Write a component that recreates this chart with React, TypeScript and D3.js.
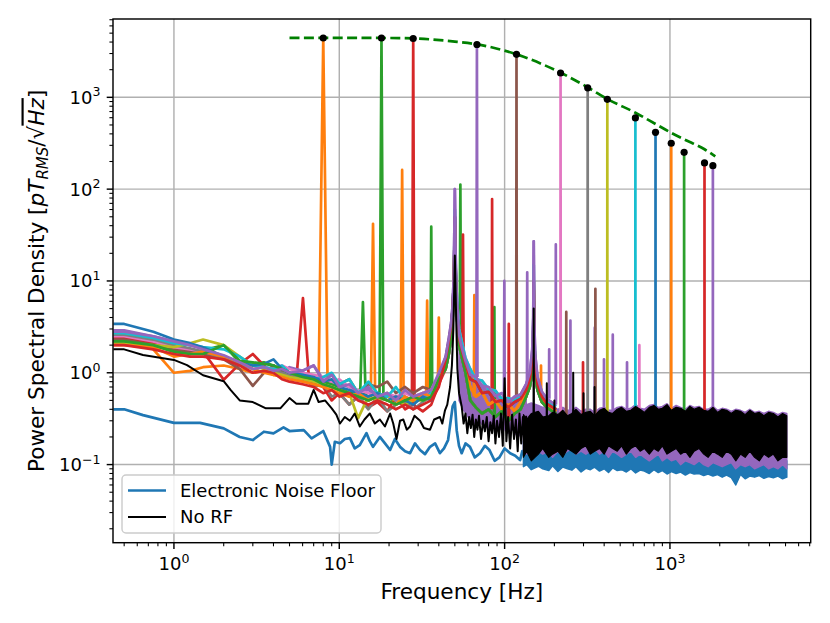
import React from 'react';
import * as d3 from 'd3';

// ---- data ----
const tab10 = ['#1f77b4', '#ff7f0e', '#2ca02c', '#d62728', '#9467bd', '#8c564b', '#e377c2', '#7f7f7f', '#bcbd22', '#17becf'];

// RF drive frequencies (Hz), their peak PSD and line colours (matplotlib cycle after the noise floor)
const rfFreqs = [8, 18, 28, 68, 118, 218, 318, 418, 618, 818, 1018, 1218, 1618, 1818];
const rfPeaks = [4430, 4430, 4370, 3760, 2940, 1840, 1270, 950, 596, 416, 316, 252, 193, 180];
const rfColors = [1, 2, 3, 4, 5, 6, 7, 8, 9, 0, 1, 2, 3, 4].map((c) => tab10[c]);

// low-frequency background of each RF run
const lowFreqs = [0.43, 0.5, 0.75, 1, 1.25, 1.5, 2, 2.5, 3, 3.5, 4, 4.5, 5, 6, 7, 8, 9, 10, 11.5, 13, 15, 17, 19.5, 22, 25, 28, 32, 36, 40];
const rfLow = [
  [2.3, 2.3, 1.8, 1.0, 1.05, 1.15, 1.2, 1.1, 1.0, 1.05, 0.95, 0.9, 1.0, 0.85, 0.8, 0.75, 0.7, 0.65, 0.55, 0.6, 0.5, 0.55, 0.6, 0.5, 0.55, 0.45, 0.6, 0.55, 0.8],
  [2.2, 2.2, 2.0, 1.7, 1.6, 1.75, 2.0, 1.3, 1.25, 1.3, 1.2, 1.05, 0.95, 0.9, 0.85, 0.8, 0.75, 0.7, 0.6, 0.65, 0.55, 0.5, 0.6, 0.45, 0.5, 0.55, 0.5, 0.6, 0.85],
  [2.4, 2.4, 2.1, 1.8, 1.75, 1.7, 0.84, 1.25, 1.6, 1.2, 0.95, 1.0, 0.9, 0.95, 0.8, 0.7, 0.5, 0.6, 0.45, 0.55, 0.42, 0.48, 0.38, 0.55, 0.4, 0.45, 0.38, 0.45, 0.75],
  [2.9, 2.9, 2.5, 2.2, 2.0, 1.85, 1.5, 1.3, 1.2, 1.15, 1.1, 1.0, 1.15, 1.05, 1.2, 0.85, 0.8, 0.75, 0.7, 0.6, 0.65, 0.55, 0.6, 0.5, 0.55, 0.5, 0.55, 0.6, 0.9],
  [2.3, 2.3, 2.0, 1.8, 1.7, 1.6, 1.4, 1.1, 0.72, 1.0, 1.2, 1.05, 0.9, 0.85, 0.75, 0.8, 0.95, 0.75, 0.85, 0.6, 0.75, 0.7, 0.8, 0.6, 0.7, 0.6, 0.7, 0.65, 0.95],
  [2.5, 2.5, 2.2, 1.9, 1.8, 1.7, 1.5, 1.3, 1.2, 1.15, 1.1, 1.2, 1.1, 1.0, 0.95, 0.9, 0.8, 0.85, 0.7, 0.65, 0.6, 0.55, 0.6, 0.55, 0.6, 0.55, 0.6, 0.65, 0.95],
  [2.6, 2.6, 2.3, 2.0, 1.85, 1.7, 1.45, 1.25, 1.1, 1.0, 1.05, 1.0, 0.95, 0.9, 0.7, 0.75, 0.55, 0.6, 0.45, 0.55, 0.4, 0.55, 0.38, 0.45, 0.5, 0.4, 0.48, 0.55, 0.85],
  [2.1, 2.1, 2.0, 1.9, 2.1, 2.3, 2.0, 1.5, 1.2, 1.1, 1.0, 0.95, 0.9, 0.85, 0.8, 0.75, 0.7, 0.65, 0.6, 0.32, 0.55, 0.5, 0.55, 0.5, 0.45, 0.5, 0.5, 0.55, 0.85],
  [2.7, 2.7, 2.4, 2.1, 2.0, 1.9, 1.8, 1.5, 1.2, 1.15, 1.1, 1.2, 1.0, 0.95, 0.85, 0.9, 1.0, 0.75, 0.85, 0.6, 0.8, 0.6, 0.55, 0.7, 0.5, 0.55, 0.5, 0.6, 0.9],
  [3.4, 3.4, 2.8, 2.3, 2.1, 1.9, 1.5, 1.3, 1.2, 1.25, 1.4, 1.1, 1.0, 0.95, 0.9, 0.8, 0.85, 0.7, 0.65, 0.6, 0.55, 0.6, 0.5, 0.55, 0.5, 0.45, 0.55, 0.5, 0.85],
  [2.0, 2.0, 1.9, 1.5, 1.6, 1.7, 1.5, 1.3, 1.1, 1.0, 0.95, 0.9, 0.85, 0.8, 0.75, 0.7, 0.65, 0.6, 0.55, 0.6, 0.5, 0.55, 0.5, 0.45, 0.55, 0.5, 0.6, 0.55, 0.85],
  [2.2, 2.2, 2.0, 1.7, 1.6, 1.6, 2.0, 1.35, 1.3, 1.25, 1.2, 1.1, 1.0, 0.9, 0.85, 0.75, 0.7, 0.65, 0.6, 0.55, 0.5, 0.55, 0.5, 0.45, 0.5, 0.55, 0.5, 0.55, 0.85],
  [2.0, 2.0, 1.8, 1.6, 1.5, 1.5, 1.4, 1.2, 1.0, 1.05, 1.0, 0.85, 0.8, 0.75, 0.7, 0.6, 0.65, 0.55, 0.6, 0.5, 0.45, 0.5, 0.45, 0.4, 0.45, 0.4, 0.45, 0.5, 0.7],
  [2.8, 2.8, 2.5, 2.2, 2.0, 1.8, 1.55, 1.3, 1.1, 1.15, 1.05, 1.1, 1.0, 1.05, 1.2, 0.8, 0.95, 0.7, 0.75, 0.6, 0.7, 0.55, 0.6, 0.5, 0.65, 0.55, 0.6, 0.65, 1.0],
];

// mains hump (50 Hz and 150 Hz) seen by the RF runs
const humpFreqs = [44, 46, 47.5, 48.5, 49.3, 50, 50.7, 51.5, 53, 55, 58, 62, 67, 73, 80, 88, 96, 105, 115, 125, 135, 142, 147, 149, 150, 151, 153, 158, 168, 180, 195, 205];
const humpPurple = [1.5, 2.4, 3.5, 5.5, 12, 100, 14, 6, 2.6, 1.9, 1.35, 0.95, 0.9, 0.72, 0.7, 0.56, 0.6, 0.48, 0.55, 0.58, 0.75, 1.0, 1.8, 4, 27, 4, 1.6, 0.9, 0.62, 0.52, 0.47, 0.45];
const humpPink = [1.3, 2.0, 3.0, 5, 10, 60, 12, 6.5, 3.0, 2.2, 1.45, 1.1, 0.85, 0.82, 0.66, 0.64, 0.52, 0.53, 0.5, 0.55, 0.7, 0.9, 1.5, 3, 15, 3, 1.4, 0.85, 0.6, 0.5, 0.45, 0.43];
const humpBrown = [1.4, 2.2, 3.2, 5, 10, 50, 10, 5, 2.4, 1.8, 1.25, 0.85, 0.8, 0.6, 0.62, 0.48, 0.5, 0.42, 0.48, 0.52, 0.65, 0.85, 1.3, 2.5, 10, 2.5, 1.2, 0.75, 0.55, 0.46, 0.42, 0.4];
const humpOrange = [1.2, 1.8, 2.8, 4.5, 9, 40, 9, 4.5, 2.2, 1.6, 1.1, 0.7, 0.55, 0.62, 0.45, 0.5, 0.4, 0.46, 0.38, 0.48, 0.6, 0.8, 1.2, 2.2, 8, 2.2, 1.1, 0.7, 0.5, 0.44, 0.4, 0.38];
const humpGreen = [1.1, 1.6, 2.4, 4, 8, 30, 8, 4, 2.0, 1.5, 1.0, 0.5, 0.42, 0.36, 0.4, 0.33, 0.38, 0.3, 0.36, 0.4, 0.55, 0.7, 1.0, 1.8, 6, 1.8, 0.95, 0.65, 0.48, 0.42, 0.38, 0.36];
const humps = [humpPurple, humpPink, humpBrown, humpOrange, humpGreen];
const rfHumpIndex = [3, 4, 4, 0, 2, 1, 4, 3, 1, 2, 3, 4, 2, 0];

// spread of the RF runs between the two mains peaks (envelope)
const rfMidFreqs = [53, 56, 59, 62, 66, 70, 75, 80, 86, 92, 98, 105, 112, 120, 128, 135];
const rfMidHi = [2.2, 1.6, 1.25, 1.05, 0.9, 0.8, 0.72, 0.66, 0.6, 0.56, 0.54, 0.52, 0.52, 0.55, 0.6, 0.7];
const rfMidLo = [0.5, 0.4, 0.35, 0.3, 0.28, 0.3, 0.26, 0.25, 0.27, 0.24, 0.25, 0.22, 0.24, 0.2, 0.22, 0.2];

// harmonics / intermodulation spurs: run index, frequency, height
const spurRun = [2, 1, 0, 0, 0, 1, 0, 1, 2, 0, 2, 1, 3, 2, 3, 0, 3, 3, 4, 3, 2, 4, 3, 3, 3, 3, 5];
const spurFreqs = [6.03, 13.9, 16, 24, 34, 36, 40, 54, 56, 65.6, 84, 86.7, 99.6, 106, 137, 166, 186, 204, 236, 250, 298, 354, 351, 399, 451, 550, 653];
const spurPeaks = [6.5, 5.9, 42, 162, 6.1, 39, 4.0, 112, 32, 7.0, 78, 5.2, 10, 3.4, 12.4, 1.2, 1.8, 25, 4.6, 3.7, 1.3, 8.2, 3.1, 1.4, 2.6, 1.3, 2.0];

// dense high-frequency part, stored as lower / upper envelope
const bandFreqs = [130, 136, 145, 160, 170, 185, 195, 210, 225, 240, 255, 270, 290, 310, 330, 350, 375, 400, 425, 450, 480, 510, 545, 580, 620, 660, 700, 750, 800, 850, 900, 960, 1020, 1090, 1160, 1240, 1320, 1400, 1500, 1600, 1700, 1820, 1940, 2070, 2200, 2350, 2500, 2670, 2850, 3040, 3250, 3470, 3700, 3950, 4220, 4500, 4800, 5090];
const rfBandHi = [0.48, 0.45, 0.47, 0.44, 0.42, 0.44, 0.41, 0.4, 0.42, 0.39, 0.39, 0.42, 0.38, 0.4, 0.4, 0.37, 0.41, 0.42, 0.39, 0.39, 0.42, 0.43, 0.4, 0.41, 0.45, 0.41, 0.4, 0.44, 0.45, 0.42, 0.43, 0.46, 0.41, 0.44, 0.42, 0.4, 0.44, 0.42, 0.43, 0.4, 0.4, 0.43, 0.39, 0.41, 0.4, 0.38, 0.4, 0.39, 0.37, 0.4, 0.37, 0.38, 0.36, 0.38, 0.37, 0.35, 0.37, 0.36];
const rfBandLo = [0.14, 0.13, 0.15, 0.14, 0.13, 0.14, 0.12, 0.14, 0.13, 0.14, 0.15, 0.13, 0.14, 0.13, 0.14, 0.15, 0.13, 0.14, 0.12, 0.14, 0.13, 0.12, 0.13, 0.14, 0.12, 0.13, 0.12, 0.11, 0.12, 0.13, 0.11, 0.12, 0.11, 0.115, 0.1, 0.11, 0.105, 0.1, 0.11, 0.1, 0.095, 0.105, 0.1, 0.095, 0.1, 0.105, 0.09, 0.1, 0.095, 0.1, 0.09, 0.095, 0.1, 0.09, 0.095, 0.09, 0.1, 0.09];
const noRfHi = [0.35, 0.31, 0.36, 0.38, 0.33, 0.34, 0.37, 0.35, 0.39, 0.34, 0.36, 0.4, 0.35, 0.37, 0.38, 0.34, 0.39, 0.41, 0.37, 0.36, 0.4, 0.42, 0.38, 0.39, 0.43, 0.4, 0.37, 0.42, 0.44, 0.4, 0.41, 0.45, 0.39, 0.42, 0.41, 0.38, 0.43, 0.4, 0.42, 0.39, 0.38, 0.42, 0.37, 0.4, 0.39, 0.36, 0.39, 0.38, 0.35, 0.39, 0.36, 0.37, 0.34, 0.37, 0.36, 0.33, 0.36, 0.34];
const noRfLo = [0.12, 0.14, 0.11, 0.13, 0.15, 0.12, 0.13, 0.14, 0.12, 0.15, 0.14, 0.13, 0.15, 0.16, 0.13, 0.14, 0.15, 0.13, 0.16, 0.15, 0.14, 0.16, 0.13, 0.15, 0.16, 0.14, 0.15, 0.13, 0.15, 0.14, 0.16, 0.13, 0.14, 0.15, 0.13, 0.14, 0.12, 0.14, 0.15, 0.13, 0.12, 0.14, 0.13, 0.12, 0.14, 0.13, 0.11, 0.13, 0.12, 0.14, 0.12, 0.11, 0.13, 0.12, 0.13, 0.11, 0.12, 0.12];
const floorHi = [0.18, 0.16, 0.19, 0.2, 0.16, 0.18, 0.17, 0.19, 0.16, 0.18, 0.15, 0.18, 0.16, 0.17, 0.15, 0.18, 0.15, 0.17, 0.16, 0.17, 0.14, 0.17, 0.15, 0.16, 0.14, 0.16, 0.15, 0.16, 0.14, 0.15, 0.13, 0.15, 0.14, 0.15, 0.13, 0.14, 0.13, 0.14, 0.13, 0.14, 0.12, 0.14, 0.12, 0.13, 0.12, 0.13, 0.12, 0.13, 0.11, 0.13, 0.12, 0.12, 0.11, 0.12, 0.11, 0.12, 0.11, 0.11];
const floorLo = [0.095, 0.1, 0.088, 0.096, 0.09, 0.086, 0.097, 0.084, 0.094, 0.09, 0.087, 0.095, 0.083, 0.091, 0.088, 0.094, 0.085, 0.09, 0.082, 0.092, 0.086, 0.088, 0.083, 0.09, 0.081, 0.087, 0.085, 0.08, 0.088, 0.082, 0.086, 0.079, 0.084, 0.08, 0.083, 0.077, 0.082, 0.079, 0.08, 0.076, 0.079, 0.075, 0.078, 0.073, 0.077, 0.072, 0.06, 0.078, 0.07, 0.075, 0.073, 0.076, 0.071, 0.074, 0.072, 0.075, 0.07, 0.073];

// Electronic noise floor, low part
const floorFreqs = [0.43, 0.5, 0.65, 1.0, 1.44, 2.0, 2.5, 3.0, 3.5, 4.0, 4.6, 5.0, 6.1, 6.8, 8.0, 8.8, 9.0, 9.4, 10.1, 10.8, 11.6, 12.4, 13.3, 14.6, 15.3, 16.0, 17.6, 18.9, 20.3, 21.7, 23.3, 25, 26.8, 28.7, 30.8, 33, 35.4, 38, 40.6, 43, 45.5, 48.5, 50, 51.3, 53, 55, 58, 61.7, 66, 71, 76, 81, 87, 93, 100, 108, 116, 124, 128, 133];
const floorValues = [0.4, 0.4, 0.346, 0.285, 0.285, 0.248, 0.2, 0.185, 0.228, 0.219, 0.254, 0.232, 0.237, 0.193, 0.232, 0.156, 0.1, 0.177, 0.171, 0.19, 0.194, 0.15, 0.163, 0.22, 0.18, 0.156, 0.2, 0.17, 0.144, 0.19, 0.156, 0.14, 0.133, 0.17, 0.144, 0.13, 0.156, 0.17, 0.133, 0.15, 0.185, 0.43, 0.48, 0.237, 0.16, 0.133, 0.17, 0.156, 0.12, 0.133, 0.16, 0.144, 0.11, 0.12, 0.15, 0.133, 0.125, 0.112, 0.14, 0.12];
const floorSpikeFreqs = [150];
const floorSpikePeaks = [0.25];

// No RF, low part
const noRfFreqs = [0.43, 0.5, 0.65, 1.0, 1.2, 1.5, 2.0, 2.2, 2.5, 3.0, 3.6, 4.4, 5.0, 5.5, 6.5, 7.0, 7.5, 8.2, 9.0, 9.6, 10.1, 10.8, 11.6, 12.4, 13.3, 14.2, 15.3, 16.4, 17.6, 18.9, 20.3, 21.2, 22.2, 23.3, 24.4, 25.6, 26.8, 28.5, 30.8, 32.5, 35.4, 37.5, 40.6, 42, 43.6, 45, 46.8, 48, 49, 50, 51, 51.8, 53, 55, 56.5, 58, 59.5, 61, 62.5, 64, 65.5, 67, 68.5, 70, 72, 74, 76, 78, 80, 82, 84, 86, 88, 90, 92.5, 95, 97.5, 100, 102.5, 105, 108, 111, 114, 117, 120, 123, 126, 129, 132, 135];
const noRfValues = [1.8, 1.8, 1.56, 1.38, 1.21, 0.94, 0.81, 0.65, 0.5, 0.48, 0.41, 0.41, 0.53, 0.46, 0.46, 0.65, 0.48, 0.5, 0.41, 0.35, 0.28, 0.33, 0.3, 0.36, 0.26, 0.31, 0.36, 0.28, 0.31, 0.26, 0.36, 0.28, 0.19, 0.3, 0.31, 0.24, 0.26, 0.34, 0.3, 0.25, 0.24, 0.31, 0.33, 0.28, 0.39, 0.45, 0.7, 1.2, 3.0, 18.9, 3.5, 1.1, 0.6, 0.43, 0.28, 0.36, 0.22, 0.33, 0.25, 0.35, 0.2, 0.31, 0.24, 0.34, 0.19, 0.3, 0.23, 0.33, 0.18, 0.29, 0.22, 0.34, 0.17, 0.3, 0.2, 0.36, 0.16, 0.87, 0.18, 0.33, 0.15, 0.35, 0.19, 0.31, 0.14, 0.36, 0.17, 0.33, 0.15, 0.34];
const noRfSpikeFreqs = [150, 180, 200, 260, 300, 350];
const noRfSpikePeaks = [5.0, 0.77, 0.5, 1.0, 0.6, 0.7];

// fitted envelope (dashed)
const fitFreqs = [5, 10, 23, 50, 68, 118, 218, 318, 418, 618, 818, 1018, 1218, 1618, 1880];
const fitValues = [4450, 4440, 4420, 4050, 3780, 2940, 1855, 1285, 958, 680, 512, 411, 349, 272, 228];

const xTickValues = [1, 10, 100, 1000];
const xTickExp = ['0', '1', '2', '3'];
const yTickValues = [0.1, 1, 10, 100, 1000];
const yTickExp = ['\u22121', '0', '1', '2', '3'];
const legendLabels = ['Electronic Noise Floor', 'No RF'];

// ---- layout ----
const W = 830;
const H = 623;
const box = { left: 113, right: 810.7, top: 19, bottom: 542.7 };
const font = 'DejaVu Sans, sans-serif';
const lw = 2.7;

type Pt = [number, number];
const zip = (fs: number[], vs: number[]): Pt[] => fs.map((f, i) => [f, vs[i]] as Pt);

const nearest = (fs: number[], vs: number[], f: number) => {
  let best = 0;
  fs.forEach((g, i) => {
    if (Math.abs(g - f) < Math.abs(fs[best] - f)) best = i;
  });
  return vs[best];
};

export default function App() {
  const x = d3.scaleLog().domain([0.428, 7100]).range([box.left, box.right]);
  const y = d3.scaleLog().domain([0.0141, 7130]).range([box.bottom, box.top]);
  const line = d3
    .line<Pt>()
    .x((d) => x(d[0]))
    .y((d) => y(d[1]));
  const band = (fs: number[], lo: number[], hi: number[]) =>
    d3
      .area<number>()
      .x((f) => x(f))
      .y0((_, i) => y(lo[i]))
      .y1((_, i) => y(hi[i]))(fs) ?? '';
  const spike = (f: number, peak: number, base: number) =>
    line([
      [f - 0.5, base],
      [f, peak],
      [f + 0.5, base],
    ]) ?? '';

  const baseAt = (run: number, f: number) => {
    if (f <= 42) return nearest(lowFreqs, rfLow[run], f);
    if (f <= 205) return nearest(humpFreqs, humps[rfHumpIndex[run]], f);
    return 0.3;
  };

  const xMinor: number[] = [];
  const yMinor: number[] = [];
  for (let e = -2; e <= 3; e++) {
    for (let k = 2; k <= 9; k++) {
      const v = k * Math.pow(10, e);
      if (v > 0.428 && v < 7100) xMinor.push(v);
      if (v > 0.0141 && v < 7130) yMinor.push(v);
    }
  }

  const fitLine = d3
    .line<Pt>()
    .x((d) => x(d[0]))
    .y((d) => y(d[1]))
    .curve(d3.curveMonotoneX);

  return (
    <svg
      width={W}
      height={H}
      style={{ position: 'absolute', left: 0, top: 0, background: '#fff' }}
      fontFamily={font}
    >
      <defs>
        <clipPath id="plot-area">
          <rect x={box.left} y={box.top} width={box.right - box.left} height={box.bottom - box.top} />
        </clipPath>
      </defs>

      {/* grid */}
      {xTickValues.map((v) => (
        <line key={`gx${v}`} x1={x(v)} x2={x(v)} y1={box.top} y2={box.bottom} stroke="#b0b0b0" strokeWidth={1.44} />
      ))}
      {yTickValues.map((v) => (
        <line key={`gy${v}`} x1={box.left} x2={box.right} y1={y(v)} y2={y(v)} stroke="#b0b0b0" strokeWidth={1.44} />
      ))}

      <g clipPath="url(#plot-area)" fill="none" strokeLinejoin="round" strokeLinecap="butt">
        {/* electronic noise floor */}
        <path d={band(bandFreqs, floorLo, floorHi)} fill={tab10[0]} stroke={tab10[0]} strokeWidth={1.5} />
        <path d={line(zip(floorFreqs, floorValues)) ?? ''} stroke={tab10[0]} strokeWidth={lw} />
        {floorSpikeFreqs.map((f, i) => (
          <path key={`fs${f}`} d={spike(f, floorSpikePeaks[i], 0.13)} stroke={tab10[0]} strokeWidth={lw} />
        ))}

        {/* RF runs: dense parts underneath */}
        <path d={band(rfMidFreqs, rfMidLo, rfMidHi)} fill={tab10[4]} stroke={tab10[4]} strokeWidth={1.5} />
        <path d={band(bandFreqs, rfBandLo, rfBandHi)} fill={tab10[4]} stroke={tab10[4]} strokeWidth={1.5} />

        {rfFreqs.map((f, run) => (
          <g key={`run${f}`} stroke={rfColors[run]} strokeWidth={lw}>
            <path d={line([...zip(lowFreqs, rfLow[run]), ...zip(humpFreqs, humps[rfHumpIndex[run]])]) ?? ''} />
            {spurRun.map((r, j) =>
              r === run ? <path key={`sp${j}`} d={spike(spurFreqs[j], spurPeaks[j], baseAt(run, spurFreqs[j]))} /> : null
            )}
            <path d={spike(f, rfPeaks[run], baseAt(run, f))} />
          </g>
        ))}

        {/* No RF */}
        <path d={band(bandFreqs, noRfLo, noRfHi)} fill="#000" stroke="#000" strokeWidth={1.2} />
        <path d={line(zip(noRfFreqs, noRfValues)) ?? ''} stroke="#000" strokeWidth={2} />
        {noRfSpikeFreqs.map((f, i) => (
          <path key={`ns${f}`} d={spike(f, noRfSpikePeaks[i], 0.25)} stroke="#000" strokeWidth={2} />
        ))}

        {/* fitted envelope and measured peaks */}
        <path d={fitLine(zip(fitFreqs, fitValues)) ?? ''} stroke="#008000" strokeWidth={lw} strokeDasharray="10 4.4" />
        {rfFreqs.map((f, i) => (
          <circle key={`dot${f}`} cx={x(f)} cy={y(rfPeaks[i])} r={3.6} fill="#000" stroke="none" />
        ))}
      </g>

      {/* frame */}
      <rect
        x={box.left}
        y={box.top}
        width={box.right - box.left}
        height={box.bottom - box.top}
        fill="none"
        stroke="#000"
        strokeWidth={1.44}
      />

      {/* ticks */}
      {xMinor.map((v) => (
        <line key={`mx${v}`} x1={x(v)} x2={x(v)} y1={box.bottom} y2={box.bottom + 3.6} stroke="#000" strokeWidth={1.08} />
      ))}
      {yMinor.map((v) => (
        <line key={`my${v}`} x1={box.left} x2={box.left - 3.6} y1={y(v)} y2={y(v)} stroke="#000" strokeWidth={1.08} />
      ))}
      {xTickValues.map((v, i) => (
        <g key={`tx${v}`}>
          <line x1={x(v)} x2={x(v)} y1={box.bottom} y2={box.bottom + 6.3} stroke="#000" strokeWidth={1.44} />
          <text x={x(v)} y={570} fontSize={18} textAnchor="middle">
            10<tspan fontSize={12.6} dy={-7.5}>{xTickExp[i]}</tspan>
          </text>
        </g>
      ))}
      {yTickValues.map((v, i) => (
        <g key={`ty${v}`}>
          <line x1={box.left} x2={box.left - 6.3} y1={y(v)} y2={y(v)} stroke="#000" strokeWidth={1.44} />
          <text x={100.5} y={y(v) + 6.5} fontSize={18} textAnchor="end">
            10<tspan fontSize={12.6} dy={-7.5}>{yTickExp[i]}</tspan>
          </text>
        </g>
      ))}

      {/* axis labels */}
      <text x={(box.left + box.right) / 2} y={599} fontSize={21.6} textAnchor="middle">
        Frequency [Hz]
      </text>
      <text transform={`translate(43.5,${(box.top + box.bottom) / 2}) rotate(-90)`} fontSize={21.6} textAnchor="middle">
        Power Spectral Density [<tspan fontStyle="italic">pT</tspan>
        <tspan fontStyle="italic" fontSize={15} dy={4}>
          RMS
        </tspan>
        <tspan dy={-4}>/√</tspan>
        <tspan fontStyle="italic" textDecoration="overline">
          Hz
        </tspan>
        ]
      </text>

      {/* legend */}
      <rect x={122} y={475} width={259} height={58} rx={4} fill="#fff" fillOpacity={0.8} stroke="#cccccc" strokeWidth={1.44} />
      <line x1={128} x2={166} y1={490.5} y2={490.5} stroke={tab10[0]} strokeWidth={lw} />
      <text x={180} y={496.7} fontSize={18}>
        {legendLabels[0]}
      </text>
      <line x1={128} x2={166} y1={517} y2={517} stroke="#000" strokeWidth={1.8} />
      <text x={180} y={523.3} fontSize={18}>
        {legendLabels[1]}
      </text>
    </svg>
  );
}
